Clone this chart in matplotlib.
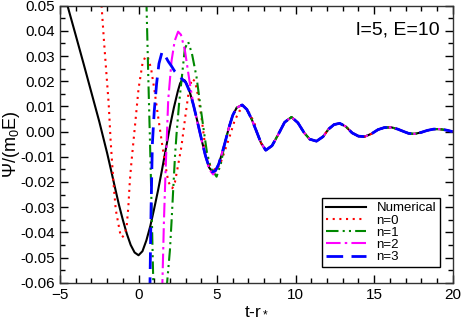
import numpy as np
import matplotlib
matplotlib.use('Agg')
import matplotlib.pyplot as plt
from matplotlib.ticker import MultipleLocator, FormatStrFormatter

plt.rcParams['font.family'] = ['Liberation Sans', 'DejaVu Sans']
plt.rcParams['mathtext.default'] = 'regular'

# numerical waveform, early part (t-r* up to 5.3)
t_num = [-5.0, -4.5, -4.0, -3.5, -3.0, -2.5, -2.0, -1.75, -1.5, -1.25, -1.0, -0.75,
         -0.5, -0.25, 0.0, 0.25, 0.5, 0.75, 1.0, 1.25, 1.5, 1.75, 2.0, 2.25, 2.5,
         2.65, 2.8, 2.95, 3.1, 3.25, 3.5, 3.75, 4.0, 4.25, 4.5, 4.7, 4.9, 5.1, 5.3]
psi_num = [0.060, 0.0495, 0.0383, 0.0270, 0.0155, 0.0040, -0.0085, -0.0153,
           -0.0222, -0.0290, -0.0350, -0.0405, -0.0450, -0.0480, -0.0491, -0.0475,
           -0.0432, -0.0375, -0.0305, -0.0231, -0.0150, -0.0065, 0.0020, 0.0095,
           0.0160, 0.0192, 0.0207, 0.0203, 0.0185, 0.0160, 0.0105, 0.0040, -0.0028,
           -0.0093, -0.0143, -0.0160, -0.0155, -0.0130, -0.0090]

# late ringdown, all curves coincide here
t_tail = [5.5, 5.75, 6.0, 6.25, 6.6, 6.9, 7.2, 7.5, 7.8, 8.1, 8.5, 8.9, 9.3,
          9.74, 10.15, 10.55, 10.9, 11.33, 11.75, 12.1, 12.45, 12.81, 13.2, 13.6,
          14.0, 14.4, 14.85, 15.25, 15.65, 16.1, 16.5, 16.9, 17.2, 17.58, 18.0,
          18.4, 18.8, 19.17, 19.6, 20.0]
psi_tail = [-0.0045, 0.0015, 0.0065, 0.0095, 0.0106, 0.0088, 0.0050, 0.0003,
            -0.0045, -0.0074, -0.0056, -0.0011, 0.0037, 0.0058, 0.0035, -0.0005,
            -0.0030, -0.0038, -0.0020, 0.0010, 0.0028, 0.0033, 0.0020, -0.0005,
            -0.0018, -0.0020, -0.0008, 0.0008, 0.0016, 0.0017, 0.0010, 0.0000,
            -0.0007, -0.0009, -0.0003, 0.0005, 0.0010, 0.0010, 0.0006, 0.0000]

# n=0
t_n0 = [-2.6, -2.35, -2.2, -2.03, -1.9, -1.78, -1.6, -1.45, -1.29, -1.15, -1.05,
        -0.9, -0.76, -0.65, -0.55, -0.45, -0.34, -0.2, 0.0, 0.25, 0.45, 0.6, 0.8,
        1.0, 1.2, 1.49, 1.7, 1.9, 2.15, 2.32, 2.5, 2.73, 3.0, 3.2, 3.4, 3.6, 3.8,
        4.0, 4.33, 4.6, 4.95, 5.25, 5.5, 5.8, 6.1, 6.4, 6.75, 7.1, 7.4]
psi_n0 = [0.060, 0.0496, 0.036, 0.0218, 0.011, -0.0033, -0.020, -0.031, -0.0364,
          -0.041, -0.0420, -0.041, -0.038, -0.030, -0.0192, -0.012, -0.005, 0.004,
          0.017, 0.027, 0.030, 0.0295, 0.025, 0.017, 0.008, -0.0045, -0.013, -0.020,
          -0.0225, -0.020, -0.014, -0.006, 0.007, 0.016, 0.021, 0.020, 0.014,
          0.006, -0.0099, -0.014, -0.0155, -0.012, -0.0075, -0.002, 0.004, 0.008,
          0.0098, 0.007, 0.003]

# n=1
t_n1 = [0.4, 0.51, 0.62, 0.73, 0.84, 0.94, 1.1, 1.35, 1.6, 1.82, 2.0, 2.1, 2.2,
        2.32, 2.42, 2.58, 2.74, 2.95, 3.16, 3.4, 3.69, 3.9, 4.12, 4.35, 4.6, 4.97,
        5.25]
psi_n1 = [0.078, 0.050, 0.022, -0.004, -0.032, -0.060, -0.085, -0.095, -0.080,
          -0.060, -0.047, -0.036, -0.024, -0.010, -0.001, 0.011, 0.0205, 0.033,
          0.0357, 0.031, 0.0218, 0.012, 0.002, -0.008, -0.0145, -0.0179, -0.0125]

# n=2
t_n2 = [1.3, 1.52, 1.62, 1.72, 1.89, 2.1, 2.3, 2.52, 2.7, 2.95, 3.27, 3.5, 3.75,
        4.0, 4.25, 4.5, 4.75, 5.0, 5.25]
psi_n2 = [-0.090, -0.060, -0.035, -0.016, 0.0126, 0.028, 0.036, 0.0397, 0.0385,
          0.0324, 0.019, 0.0105, 0.0035, -0.003, -0.0095, -0.0150, -0.0170,
          -0.0145, -0.010]

# n=3
t_n3 = [0.6, 0.73, 0.8, 0.88, 1.0, 1.15, 1.3, 1.5, 1.7, 1.9, 2.1, 2.32, 2.55, 2.8,
        3.0, 3.25, 3.5, 3.75, 4.0, 4.25, 4.5, 4.7, 4.9, 5.1, 5.3]
psi_n3 = [-0.090, -0.060, -0.030, -0.005, 0.008, 0.019, 0.027, 0.0317, 0.0300,
          0.0278, 0.026, 0.0238, 0.0222, 0.0207, 0.0196, 0.0160, 0.0105, 0.0040,
          -0.0028, -0.0093, -0.0143, -0.0160, -0.0155, -0.0130, -0.0090]


def with_tail(t, psi):
    t = np.array(t)
    psi = np.array(psi)
    tt = np.array(t_tail)
    keep = tt > t[-1]
    return np.concatenate([t, tt[keep]]), np.concatenate([psi, np.array(psi_tail)[keep]])


fig = plt.figure(figsize=(4.63, 3.18), dpi=100)
ax = fig.add_axes([0.1296, 0.111, 0.848, 0.871])

x, y = with_tail(t_num, psi_num)
ax.plot(x, y, color='black', lw=1.5, ls='-', label='Numerical')
x, y = with_tail(t_n0, psi_n0)
ax.plot(x, y, color='#ff0000', lw=1.5, ls=(0, (1, 2.2)), label='n=0')
x, y = with_tail(t_n1, psi_n1)
ax.plot(x, y, color='#008800', lw=1.5, ls=(0, (6, 2, 1, 2, 1, 2)), label='n=1')
x, y = with_tail(t_n2, psi_n2)
ax.plot(x, y, color='#ff00ff', lw=1.5, ls=(0, (7, 2, 1.2, 2)), label='n=2')
x, y = with_tail(t_n3, psi_n3)
ax.plot(x, y, color='#0000ff', lw=2.0, ls=(0, (6, 3)), label='n=3')

ax.set_xlim(-5, 20)
ax.set_ylim(-0.06, 0.05)
ax.xaxis.set_major_locator(MultipleLocator(5))
ax.xaxis.set_minor_locator(MultipleLocator(1))
ax.yaxis.set_major_locator(MultipleLocator(0.01))
ax.yaxis.set_minor_locator(MultipleLocator(0.005))
ax.yaxis.set_major_formatter(FormatStrFormatter('%.2f'))
ax.tick_params(which='both', direction='in', top=True, right=True, labelsize=11)
ax.tick_params(which='major', length=6, width=1)
ax.tick_params(which='minor', length=3.5, width=1)
for s in ax.spines.values():
    s.set_linewidth(1.0)
    s.set_color('#333333')

ax.set_xlabel('t-r$_*$', fontsize=12.5, labelpad=1)
ax.set_ylabel('Ψ/(m$_0$E)', fontsize=13)
ax.yaxis.set_label_coords(-0.098, 0.5)

ax.text(0.968, 0.942, 'l=5, E=10', transform=ax.transAxes, ha='right', va='top',
        fontsize=14)

leg = ax.legend(loc='lower right', bbox_to_anchor=(0.968, 0.056), fontsize=9.5,
                frameon=True, fancybox=False, framealpha=1, edgecolor='black',
                handlelength=3.0, labelspacing=0.0, borderpad=0.3,
                handletextpad=0.8, borderaxespad=0)
leg.get_frame().set_linewidth(1.0)

fig.savefig('out.png', dpi=100)
